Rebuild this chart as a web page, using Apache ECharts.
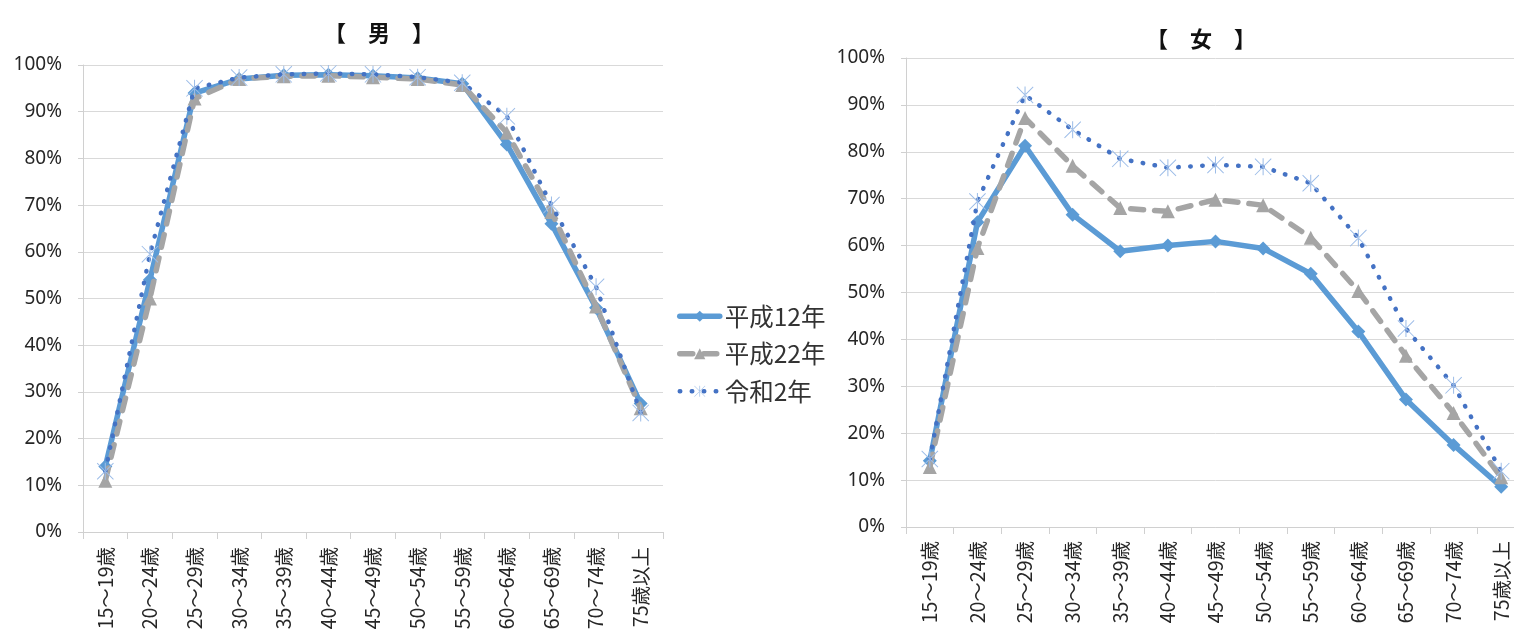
<!DOCTYPE html>
<html><head><meta charset="utf-8">
<script src="https://cdn.jsdelivr.net/npm/echarts@6/dist/echarts.min.js"></script>
<style>html,body{margin:0;padding:0;background:#fff;overflow:hidden;width:1514px;height:633px}#c{width:1540px;height:633px}</style>
</head><body><div id="c"></div>
<script>
const categories = ['15～19歳','20～24歳','25～29歳','30～34歳','35～39歳','40～44歳','45～49歳','50～54歳','55～59歳','60～64歳','65～69歳','70～74歳','75歳以上'];
const seriesNames = ['平成12年','平成22年','令和2年'];
const yTicks = [0,10,20,30,40,50,60,70,80,90,100];
// 男
const maleH12 = [14.0, 54.0, 94.0, 97.0, 97.8, 97.9, 97.7, 97.2, 96.0, 83.0, 66.0, 48.0, 27.5];
const maleH22 = [11.0, 50.0, 92.8, 97.0, 97.6, 97.7, 97.4, 97.0, 95.7, 85.5, 68.5, 48.3, 26.5];
const maleR2  = [13.0, 59.5, 95.0, 97.3, 98.0, 98.2, 98.0, 97.4, 96.2, 89.0, 70.0, 52.5, 25.5];
// 女
const femH12 = [14.1, 65.0, 81.3, 66.6, 58.8, 60.0, 60.9, 59.4, 54.0, 41.7, 27.2, 17.5, 8.6];
const femH22 = [12.8, 59.5, 87.2, 77.0, 68.0, 67.3, 69.8, 68.6, 61.7, 50.3, 36.5, 24.3, 10.6];
const femR2  = [14.5, 69.4, 92.1, 84.7, 78.5, 76.6, 77.2, 76.8, 73.3, 61.6, 42.3, 30.2, 11.9];

const starPath = 'path://M9.4,0 L10.6,0 L10.6,20 L9.4,20 Z M0,0.8 L0.8,0 L20,19.2 L19.2,20 Z M20,0.8 L19.2,0 L0,19.2 L0.8,20 Z';
const C_BLUE = '#5B9BD5', C_GRAY = '#A5A5A5', C_DOT = '#4472C4', C_STAR = '#9DBDE8';
const LABEL_FONT = 'Noto Sans CJK JP';

function styleFor(name) {
  if (name === seriesNames[0]) {
    return {symbol: 'diamond', symbolSize: 14, itemStyle: {color: C_BLUE},
      lineStyle: {color: C_BLUE, width: 5.5, cap: 'round', join: 'round'}, z: 2};
  } else if (name === seriesNames[1]) {
    return {symbol: 'triangle', symbolSize: 14, itemStyle: {color: C_GRAY},
      lineStyle: {color: C_GRAY, width: 5.5, type: [13, 11], cap: 'round'}, z: 3};
  }
  return {symbol: starPath, symbolSize: 17, itemStyle: {color: C_STAR},
    lineStyle: {color: C_DOT, width: 4.5, type: [0.5, 11.5], cap: 'round'}, z: 4};
}
function mkSeries(name, data, idx) {
  return Object.assign({name, type: 'line', data, xAxisIndex: idx, yAxisIndex: idx, animation: false}, styleFor(name));
}

function xAxis(gi, margin) {
  return {type: 'category', gridIndex: gi, data: categories, boundaryGap: true,
    axisLine: {lineStyle: {color: '#D0D0D0', width: 1}},
    axisTick: {show: true, length: 7, lineStyle: {color: '#D0D0D0'}},
    axisLabel: {rotate: 90, interval: 0, margin: margin, fontSize: 19.5, color: '#262626',
      fontFamily: LABEL_FONT}};
}
function yAxis(gi) {
  return {type: 'value', gridIndex: gi, min: yTicks[0], max: yTicks[yTicks.length - 1], interval: 10,
    axisLine: {show: true, lineStyle: {color: '#D0D0D0'}},
    axisTick: {show: true, length: 5, lineStyle: {color: '#D0D0D0'}},
    splitLine: {lineStyle: {color: '#D9D9D9', width: 1}},
    axisLabel: {margin: 21, fontSize: 19, color: '#262626', fontFamily: 'Noto Sans', formatter: v => v + '%'}};
}

const chart = echarts.init(document.getElementById('c'), null, {renderer: 'canvas'});
chart.setOption({
  animation: false,
  backgroundColor: '#fff',
  title: [
    {text: '【　男　】', left: 374, top: 17, textAlign: 'center',
      textStyle: {fontSize: 22, fontWeight: 'bold', color: '#111', fontFamily: LABEL_FONT}},
    {text: '【　女　】', left: 1196, top: 23, textAlign: 'center',
      textStyle: {fontSize: 22, fontWeight: 'bold', color: '#111', fontFamily: LABEL_FONT}}
  ],
  legend: {
    data: seriesNames.map(n => {
      const s = styleFor(n);
      return {name: n, itemStyle: s.itemStyle, lineStyle: s.lineStyle};
    }),
    orient: 'vertical', left: 677, top: 304, itemGap: 13, padding: 0,
    itemWidth: 40, itemHeight: 14,
    textStyle: {fontSize: 24.5, color: '#333', fontFamily: LABEL_FONT}},
  grid: [
    {left: 83, top: 65, width: 580, height: 467, containLabel: false},
    {left: 906, top: 58, width: 619, height: 469, containLabel: false}
  ],
  xAxis: [xAxis(0, 15), xAxis(1, 14)],
  yAxis: [yAxis(0), yAxis(1)],
  series: [
    mkSeries(seriesNames[0], maleH12, 0),
    mkSeries(seriesNames[1], maleH22, 0),
    mkSeries(seriesNames[2], maleR2, 0),
    mkSeries(seriesNames[0], femH12, 1),
    mkSeries(seriesNames[1], femH22, 1),
    mkSeries(seriesNames[2], femR2, 1)
  ]
});
</script></body></html>
